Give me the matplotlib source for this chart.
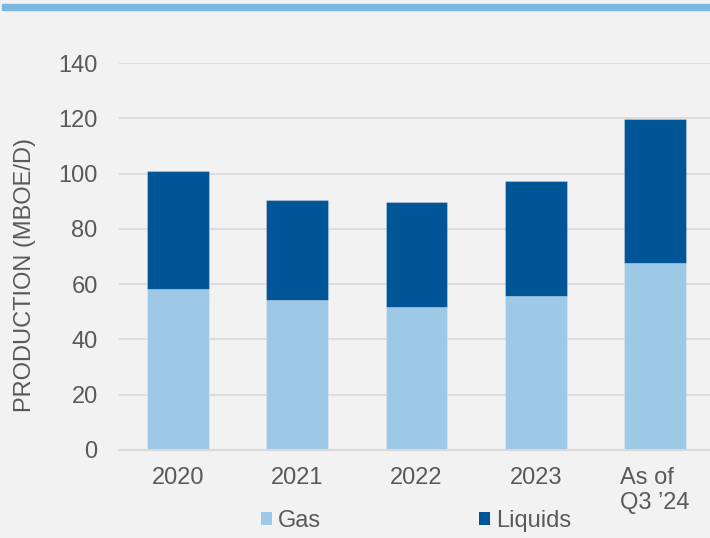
import matplotlib
matplotlib.use('Agg')
import matplotlib.pyplot as plt
from matplotlib.patches import Rectangle, Patch

# Production by year, MBOE/D
categories = ['2020', '2021', '2022', '2023', 'As of\nQ3 \u201924']
gas = [58.1, 54.2, 51.7, 55.8, 67.7]
liquids = [42.7, 36.4, 38.0, 41.5, 51.9]
yticks = [0, 20, 40, 60, 80, 100, 120, 140]

BG = '#f2f2f2'
GAS_COLOR = '#9dc8e6'
LIQ_COLOR = '#005596'
GRID = '#d9d9d9'
TEXT = '#595959'

plt.rcParams['font.family'] = ['Liberation Sans', 'DejaVu Sans']
plt.rcParams['font.size'] = 17

fig = plt.figure(figsize=(7.1, 5.38), dpi=100, facecolor=BG)
ax = fig.add_axes([118.5 / 710, 1 - 450 / 538, 596 / 710, 387 / 538])
ax.set_facecolor(BG)

# thin accent band across the top
fig.patches.append(Rectangle((2 / 710, 1 - 10 / 538), 1, 6 / 538,
                             transform=fig.transFigure, color='#7ab8e4', zorder=0))

x = range(len(categories))
edge = (1, 1, 1, 0.25)
ax.bar(x, gas, width=0.52, color=GAS_COLOR, edgecolor=edge, linewidth=0.8, zorder=3)
ax.bar(x, liquids, width=0.52, bottom=gas, color=LIQ_COLOR, edgecolor=edge,
       linewidth=0.8, zorder=3)

ax.set_xlim(-0.5, len(categories) - 0.5)
ax.set_ylim(0, 140)
ax.set_yticks(yticks)
ax.grid(True, axis='y', color=GRID, linewidth=1.2, zorder=0)
ax.set_axisbelow(True)

for side in ['top', 'right', 'left']:
    ax.spines[side].set_visible(False)
ax.spines['bottom'].set_color(GRID)
ax.spines['bottom'].set_linewidth(1.5)
ax.spines['bottom'].set_zorder(4)

ax.set_xticks(list(x))
ax.set_xticklabels(categories, color=TEXT)
for lbl in ax.get_xticklabels():
    lbl.set_multialignment('left')
ax.tick_params(axis='both', length=0, colors=TEXT)
ax.tick_params(axis='x', pad=12)
ax.tick_params(axis='y', pad=15)

fig.text(25 / 710, 1 - 274.5 / 538, 'PRODUCTION (MBOE/D)', rotation=90,
         ha='center', va='center', color=TEXT, fontsize=17)

handles = [Patch(facecolor=GAS_COLOR, label='Gas'),
           Patch(facecolor=LIQ_COLOR, label='Liquids')]
fig.legend(handles=handles, loc='center left', bbox_to_anchor=(240 / 710, 1 - 521 / 538),
           ncol=2, frameon=False, handlelength=0.45, handleheight=0.45,
           handletextpad=0.25, columnspacing=6.7, labelcolor=TEXT, fontsize=17)

fig.savefig('out.png', dpi=100, facecolor=BG)
